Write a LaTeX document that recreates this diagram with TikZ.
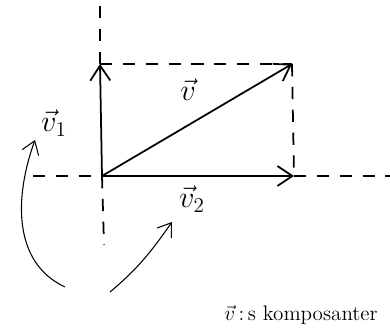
\documentclass[tikz,border=0pt]{standalone}
\usepackage{amsmath, amssymb}
\usepackage{tikz}
\usetikzlibrary{arrows.meta, positioning}
\tikzstyle{vec} = [-{Straight Barb[length=3mm, width=4mm]}, line width=1pt]
\tikzstyle{guide} = [line width=1pt, dash pattern=on 7pt off 6pt]
\tikzstyle{hint} = [-{Straight Barb[length=2.5mm, width=3.5mm]}, line width=0.6pt]
\tikzstyle{lbl} = [font=\LARGE, inner sep=1pt]

\begin{document}
\begin{tikzpicture}[x=0.02cm, y=0.02cm]
  \useasboundingbox (0,0) rectangle (390,335);

  % Points
  \coordinate (O) at (102,159);
  \coordinate (v1) at (100,271);
  \coordinate (v) at (292,271);
  \coordinate (v2) at (294,159);
  \coordinate (ytop) at (100,335);
  \coordinate (ybot) at (104,90);
  \coordinate (xleft) at (33,159);
  \coordinate (xright) at (390,159);

  % Axes and helper lines
  \draw[guide] (v1) -- (ytop);
  \draw[guide] (O) -- (ybot);
  \draw[guide] (xleft) -- (O);
  \draw[guide] (v2) -- (xright);
  \draw[guide] (v1) -- (v);
  \draw[guide] (v) -- (v2);

  % Vectors
  \draw[vec] (O) -- (v1);
  \draw[vec] (O) -- (v2);
  \draw[vec] (O) -- (v);

  % Labels
  \node[lbl] (lv) at (188,245) {$\vec{v}$};
  \node[lbl] (lv1) at (54,212) {$\vec{v}_1$};
  \node[lbl] (lv2) at (192,136) {$\vec{v}_2$};
  \node[font=\large] (cap) at (301,20) {$\vec{v}$\,:\,s komposanter};

  % Pointers
  \coordinate (p1) at (65,48);
  \coordinate (p2) at (110,43);
  \draw[hint] (p1) to[out=155, in=-110] (35,195);
  \draw[hint] (p2) to[out=40, in=-125] (172,113);
\end{tikzpicture}
\end{document}
